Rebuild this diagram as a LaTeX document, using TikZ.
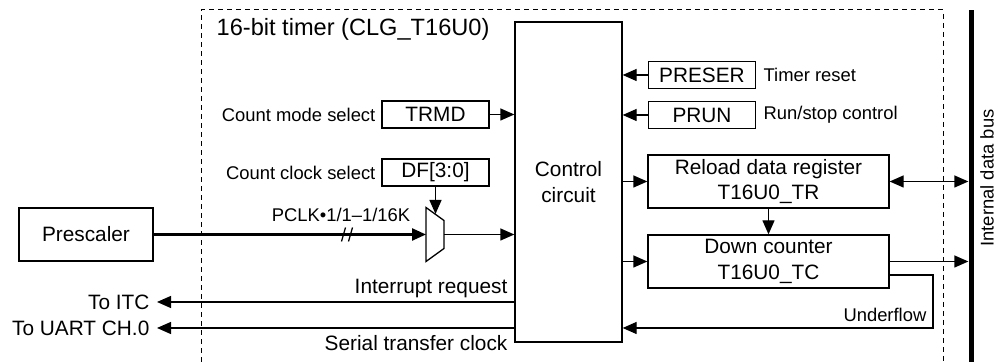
\documentclass[tikz,border=0pt]{standalone}
\usepackage{fontspec}
\setmainfont{Liberation Sans}
\usetikzlibrary{arrows.meta,positioning}

\tikzset{
  reg/.style={draw, inner sep=0pt, minimum width=53.5pt, minimum height=13.3pt, font=\fontsize{10.4}{12}\selectfont},
  blk/.style={draw, inner sep=0pt, align=center, font=\fontsize{10.4}{12.6}\selectfont},
  lbl/.style={inner sep=0pt, font=\fontsize{9.2}{11}\selectfont},
  txt/.style={inner sep=0pt, font=\fontsize{10.4}{12}\selectfont},
  sig/.style={-{Triangle[length=7pt,width=6pt]}},
  bisig/.style={{Triangle[length=7pt,width=6pt]}-{Triangle[length=7pt,width=6pt]}},
}

\begin{document}
\begin{tikzpicture}[x=0.5pt,y=-0.5pt,on grid,line width=0.65pt]
  \useasboundingbox (0,0) rectangle (998,362);
  \draw[line width=0.5pt, dash pattern=on 2.5pt off 2pt] (201,362) -- (201,10) -- (943,10) -- (943,362);
  \node[anchor=west, inner sep=0pt, font=\fontsize{11.8}{14}\selectfont] (title) at (216,29) {16-bit timer (CLG\_T16U0)};

  \node[blk, minimum width=53.5pt, minimum height=160pt] (ctrl) at (568.5,182) {Control\\circuit};
  \node[reg] (preser) at (702,75) {PRESER};
  \node[reg] (prun) [below=20pt of preser] {PRUN};
  \node[lbl, anchor=west] (rstlbl) at (763,75) {Timer reset};
  \node[lbl, anchor=west] (runlbl) at (763,115) {Run/stop control};
  \node[reg, minimum height=13.5pt] (trmd) at (435.5,114.5) {TRMD};
  \node[reg, minimum height=13.5pt] (df) [below=29pt of trmd] {DF[3:0]};
  \node[lbl, anchor=east] (modelbl) at (376,115) {Count mode select};
  \node[lbl, anchor=east] (clklbl) at (376,172.5) {Count clock select};
  \node[blk, minimum width=120.5pt, minimum height=26.5pt] (reload) at (768.5,181.5) {Reload data register\\T16U0\_TR};
  \node[blk, minimum width=120.5pt, minimum height=26.5pt] (down) [below=40pt of reload] {Down counter\\T16U0\_TC};
  \node[blk, minimum width=67pt, minimum height=26.5pt] (presc) at (86,234.5) {Prescaler};
  \node[fill, inner sep=0pt, minimum width=2.5pt, minimum height=176pt] (bus) at (971.5,186) {};
  \node[lbl, rotate=90] (buslbl) at (987,178) {Internal data bus};

  \draw (426,207.5) -- (444,220.5) -- (444,248.5) -- (426,261.5) -- cycle;
  \coordinate (mux in) at (426,234.5);
  \coordinate (mux out) at (444,234.5);
  \coordinate (mux sel) at (435.5,214);
  \node[lbl] (pclk) at (341,215) {PCLK•1/1–1/16K};
  \draw[sig, line width=1.2pt] (presc) -- (presc -| mux in);
  \coordinate (slash) at (348.5,234.5);
  \draw ([shift={(-3.5pt,-3.5pt)}]slash) -- ([shift={(-1.5pt,3.5pt)}]slash)
        ([shift={(0pt,-3.5pt)}]slash) -- ([shift={(2pt,3.5pt)}]slash);

  \path[sig]
  (preser) edge (preser -| ctrl.east)
  (prun) edge (prun -| ctrl.east)
  (trmd) edge (trmd -| ctrl.west)
  (df) edge (mux sel)
  (mux out) edge (mux out -| ctrl.west)
  (reload -| ctrl.east) edge (reload)
  (down -| ctrl.east) edge (down)
  (reload) edge (down)
  (down) edge (down -| bus.west)
  ;
  \path[bisig] (reload) edge (reload -| bus.west);

  \coordinate (uf corner) at (933,328);
  \draw[sig] ([yshift=-6.75pt]down.east) -| (uf corner) -- (uf corner -| ctrl.east);
  \node[lbl, anchor=base east] (uflbl) at (927,322) {Underflow};

  \node[txt, anchor=east, inner xsep=3.5pt] (itc) at (157,302) {To ITC};
  \node[txt, anchor=east, inner xsep=3.5pt] (uart) at (157,328) {To UART CH.0};
  \draw[sig] (ctrl.west |- itc) -- (itc);
  \draw[sig] (ctrl.west |- uart) -- (uart);
  \node[txt, anchor=base east] (irqlbl) at (508,294) {Interrupt request};
  \node[txt, anchor=base east] (sclklbl) at (508,351) {Serial transfer clock};
\end{tikzpicture}
\end{document}
